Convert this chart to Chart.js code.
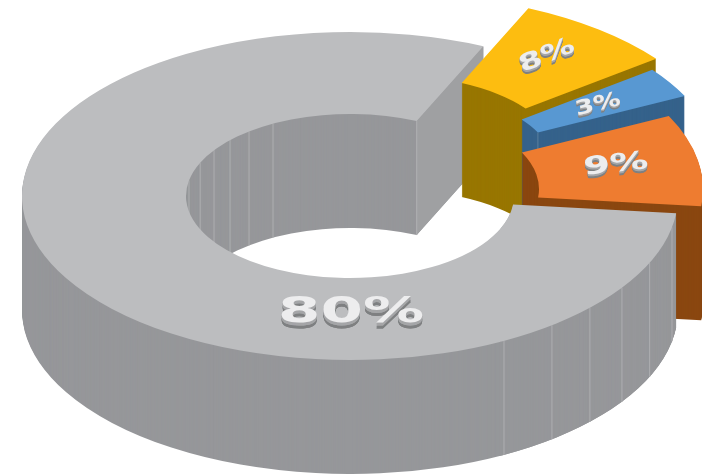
<!DOCTYPE html>
<html>
<head>
<meta charset="utf-8">
<style>
  html, body { margin: 0; padding: 0; background: #fff; }
  #chart { display: block; }
</style>
</head>
<body>
<canvas id="chart" width="702" height="474"></canvas>
<script src="https://cdn.jsdelivr.net/npm/chart.js"></script>
<script>
// values, clockwise from the orange/grey seam
const categories = ['Grey', 'Yellow', 'Blue', 'Orange'];
const values = [80, 8, 3, 9];
const startRotation = 96;

// colours
const topColors = ['#bcbdbf', '#fdbd10', '#5898d2', '#ee7c30'];
const wallColors = ['#96979a', '#987600', '#35628b', '#8a4710'];

// how far each slice is pulled out of the ring
const sliceShiftX = [0, 45, 41, 25];
const sliceShiftY = [0, -38, -27, -7];

// fake perspective
const ringX = 350, ringY = 196, ringRx = 328, ringRy = 164, depth = 114;

// grey is drawn again over the pulled out slices, only right of this x
const greyFrontX = 500;

// thin facet lines on the grey wall, degrees clockwise from top
const facetAngles = [152, 142, 133, 124, 114, 101];

// label placing: centre, width, squash, tilt in degrees, extrusion
const labelX = [351, 547, 598, 616];
const labelY = [313, 56, 105, 165];
const labelW = [146, 58, 46, 65];
const labelH = [0.88, 0.58, 0.5, 0.62];
const labelTilt = [0, -22, -14, -6];
const labelDepth = [6, 4, 3, 4];

function ellipsePoint(arc, i, radius, angle) {
  const sx = ringRx / arc.outerRadius, sy = ringRy / arc.outerRadius;
  return [
    ringX + sliceShiftX[i] + Math.cos(angle) * radius * sx,
    ringY + sliceShiftY[i] + Math.sin(angle) * radius * sy
  ];
}

function drawSlice(ctx, arc, i, d, color) {
  const o = arc.options;
  arc.options = Object.assign({}, o, { backgroundColor: color });
  ctx.save();
  ctx.translate(ringX + sliceShiftX[i], ringY + sliceShiftY[i] + d);
  ctx.scale(ringRx / arc.outerRadius, ringRy / arc.outerRadius);
  ctx.translate(-arc.x, -arc.y);
  arc.draw(ctx);
  ctx.restore();
  arc.options = o;
}

function vLine(ctx, p, color) {
  ctx.strokeStyle = color;
  ctx.lineWidth = 1;
  ctx.beginPath();
  ctx.moveTo(p[0], p[1]);
  ctx.lineTo(p[0], p[1] + depth);
  ctx.stroke();
}

function drawBlock(ctx, arc, i) {
  for (let d = depth; d > 0; d--) drawSlice(ctx, arc, i, d, wallColors[i]);

  if (categories[i] === 'Grey') {
    // lighter cut face where the ring was opened
    const a = ellipsePoint(arc, i, arc.innerRadius, arc.endAngle);
    const b = ellipsePoint(arc, i, arc.outerRadius, arc.endAngle);
    ctx.fillStyle = '#9fa0a2';
    ctx.beginPath();
    ctx.moveTo(a[0], a[1]);
    ctx.lineTo(b[0], b[1]);
    ctx.lineTo(b[0], b[1] + depth);
    ctx.lineTo(a[0], a[1] + depth);
    ctx.closePath();
    ctx.fill();
    vLine(ctx, a, '#b0b1b3');
    facetAngles.forEach(deg => {
      const t = (deg - 90) * Math.PI / 180;
      vLine(ctx, ellipsePoint(arc, i, arc.outerRadius, t), '#aeafb1');
      vLine(ctx, ellipsePoint(arc, i, arc.innerRadius, t + Math.PI), '#aeafb1');
    });
  } else if (categories[i] === 'Blue') {
    vLine(ctx, ellipsePoint(arc, i, arc.innerRadius, arc.endAngle), '#5b7f9f');
  }
  drawSlice(ctx, arc, i, 0, topColors[i]);
}

const ring3d = {
  id: 'ring3d',
  beforeDatasetDraw(chart) {
    const ctx = chart.ctx;
    const arcs = chart.getDatasetMeta(0).data;
    arcs.forEach((arc, i) => drawBlock(ctx, arc, i));
    // front of the grey ring sits over the orange slice
    ctx.save();
    ctx.beginPath();
    ctx.rect(greyFrontX, 0, chart.width - greyFrontX, chart.height);
    ctx.clip();
    drawBlock(ctx, arcs[0], 0);
    ctx.restore();
    return false;
  },
  afterDatasetsDraw(chart) {
    const ctx = chart.ctx;
    values.forEach((v, i) => {
      const text = v + '%';
      ctx.save();
      ctx.font = 'bold 40px "DejaVu Sans"';
      ctx.textAlign = 'center';
      ctx.textBaseline = 'middle';
      const w = ctx.measureText(text).width;
      for (let d = labelDepth[i] * 2; d >= 0; d--) {
        ctx.save();
        ctx.translate(labelX[i], labelY[i] + d / 2);
        ctx.rotate(labelTilt[i] * Math.PI / 180);
        ctx.scale(labelW[i] / w, labelH[i]);
        ctx.fillStyle = d === 0 ? '#ededee' : (d > labelDepth[i] ? '#7f8082' : '#a5a6a8');
        ctx.fillText(text, 0, 0);
        ctx.restore();
      }
      ctx.restore();
    });
  }
};

new Chart(document.getElementById('chart'), {
  type: 'doughnut',
  data: {
    labels: categories,
    datasets: [{
      data: values,
      backgroundColor: topColors,
      borderWidth: 0,
      clip: false
    }]
  },
  options: {
    responsive: false,
    animation: false,
    rotation: startRotation,
    radius: 160,
    cutout: '50%',
    events: [],
    plugins: {
      legend: { display: false },
      tooltip: { enabled: false }
    }
  },
  plugins: [ring3d]
});
</script>
</body>
</html>
